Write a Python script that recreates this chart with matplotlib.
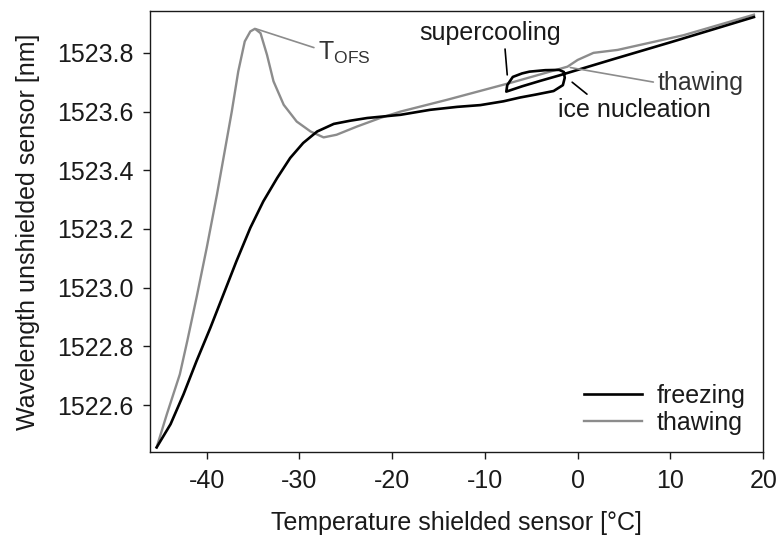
import numpy as np
import matplotlib
matplotlib.use('Agg')
import matplotlib.pyplot as plt

plt.rcParams['font.family'] = ['Liberation Sans', 'DejaVu Sans']
plt.rcParams['mathtext.default'] = 'regular'
plt.rcParams['axes.unicode_minus'] = False
plt.rcParams['font.size'] = 18

# freezing run (cooling from +19 down to -45.4)
frz_t = [19.0, 10.0, 4.0, 0.0, -2.0, -4.0, -6.0, -7.7,
         -7.6, -7.0, -6.0, -5.2, -3.5, -2.0, -1.5, -1.4, -1.6, -2.6,
         -4.5, -6.2, -8.0, -10.5, -13.0, -15.9, -19.1, -22.7, -24.5,
         -26.3, -28.1, -29.6, -31.0, -32.4, -33.9, -35.3, -36.8, -38.2,
         -39.6, -41.1, -42.5, -43.9, -45.4]
frz_wl = [1523.922, 1523.836, 1523.780, 1523.742, 1523.723, 1523.705, 1523.686, 1523.668,
          1523.690, 1523.718, 1523.730, 1523.736, 1523.741, 1523.742, 1523.735, 1523.715, 1523.690, 1523.670,
          1523.658, 1523.648, 1523.635, 1523.622, 1523.616, 1523.606, 1523.589, 1523.578, 1523.569,
          1523.558, 1523.532, 1523.493, 1523.442, 1523.374, 1523.294, 1523.204, 1523.090, 1522.977,
          1522.864, 1522.750, 1522.637, 1522.535, 1522.456]

# thawing run (heating from -45.4 up to +19)
thw_t = [-45.4, -44.3, -42.9, -42.1, -41.1, -40.0, -38.9, -38.0, -37.3, -36.6,
         -35.9, -35.3, -34.8, -34.2, -33.5, -32.8, -31.7, -30.3, -28.8, -27.4,
         -26.0, -23.8, -21.3, -19.1, -14.1, -7.0, -1.1, 0.0, 1.7, 4.3, 11.4, 19.0]
thw_wl = [1522.456, 1522.569, 1522.705, 1522.818, 1522.966, 1523.136, 1523.317, 1523.476, 1523.600, 1523.737,
          1523.839, 1523.873, 1523.882, 1523.867, 1523.793, 1523.703, 1523.623, 1523.566, 1523.532, 1523.512,
          1523.521, 1523.549, 1523.578, 1523.600, 1523.640, 1523.700, 1523.753, 1523.776, 1523.800, 1523.810,
          1523.860, 1523.930]

fig = plt.figure(figsize=(7.78, 5.44), dpi=100)
ax = fig.add_axes([0.193, 0.169, 0.788, 0.811])

ax.plot(frz_t, frz_wl, color='black', lw=1.9, label='freezing', zorder=3)
ax.plot(thw_t, thw_wl, color='#8c8c8c', lw=1.7, label='thawing', zorder=2)

ax.set_xlim(-46.1, 20)
ax.set_ylim(1522.44, 1523.943)
ax.set_xticks(np.arange(-40, 21, 10))
ax.set_yticks(np.arange(1522.6, 1523.81, 0.2))
ax.yaxis.set_major_formatter(matplotlib.ticker.FormatStrFormatter('%.1f'))
ax.tick_params(direction='out', length=5, width=1, pad=7, colors='#1a1a1a')
for s in ax.spines.values():
    s.set_linewidth(1.0)
    s.set_color('#1a1a1a')

ax.set_xlabel('Temperature shielded sensor [°C]', labelpad=13, color='#1a1a1a')
ax.set_ylabel('Wavelength unshielded sensor [nm]', labelpad=12, color='#1a1a1a')

gray = '#8c8c8c'
ax.annotate('T$_{OFS}$', xy=(-34.7, 1523.882), xytext=(-28.0, 1523.80),
            ha='left', va='center', color='#333333',
            arrowprops=dict(arrowstyle='-', color=gray, lw=1.2, relpos=(0, 0.65), shrinkA=1, shrinkB=0))
ax.annotate('supercooling', xy=(-7.6, 1523.725), xytext=(-9.4, 1523.868),
            ha='center', va='center', color='#1a1a1a',
            arrowprops=dict(arrowstyle='-', color='black', lw=1.2, relpos=(0.6, 0), shrinkA=1, shrinkB=0))
ax.annotate('thawing', xy=(-0.8, 1523.75), xytext=(8.6, 1523.698),
            ha='left', va='center', color='#333333',
            arrowprops=dict(arrowstyle='-', color=gray, lw=1.2, relpos=(0, 0.5), shrinkA=1, shrinkB=0))
ax.annotate('ice nucleation', xy=(-0.6, 1523.70), xytext=(6.1, 1523.606),
            ha='center', va='center', color='#1a1a1a',
            arrowprops=dict(arrowstyle='-', color='black', lw=1.2, relpos=(0.22, 1), shrinkA=1, shrinkB=0))

ax.legend(loc='lower right', frameon=False, handlelength=2.3, handletextpad=0.6,
          labelspacing=0.1, borderaxespad=0.3, labelcolor='#1a1a1a')

fig.savefig('out.png', dpi=100)
